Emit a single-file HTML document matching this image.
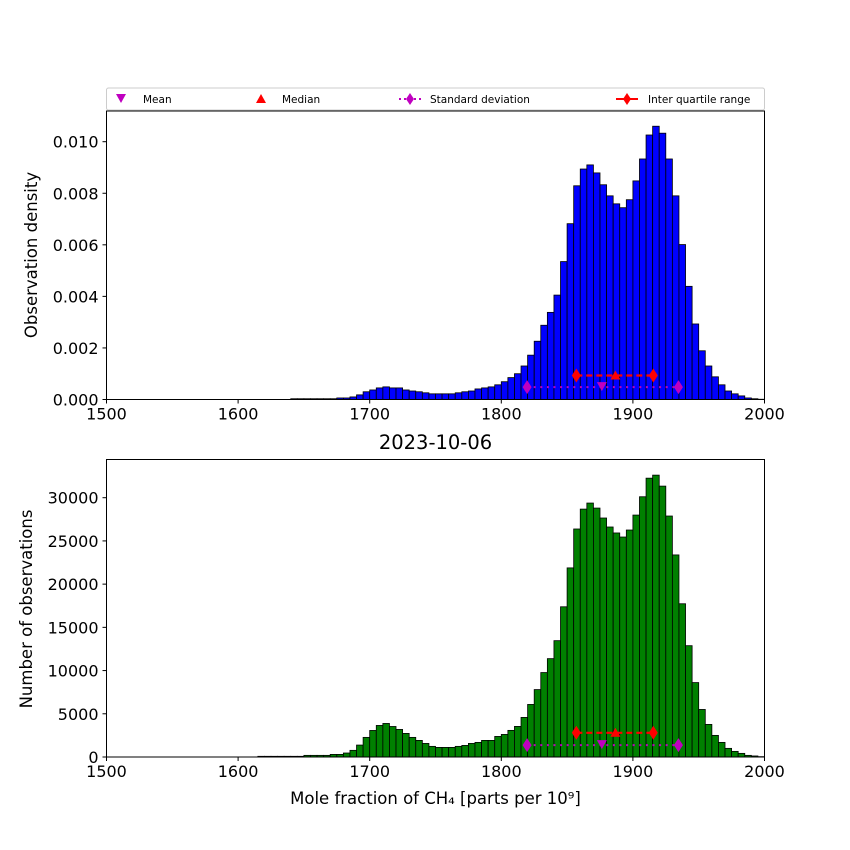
<!DOCTYPE html>
<html><head><meta charset="utf-8"><style>
body{margin:0;background:#fff}
svg{display:block;font-family:"DejaVu Sans","Liberation Sans",sans-serif}
</style></head><body>
<svg id="chart" width="850" height="850" viewBox="0 0 850 850" xmlns="http://www.w3.org/2000/svg">
<rect width="850" height="850" fill="#fff"/>
<g id="legend">
  <rect x="106.5" y="88" width="658" height="22" fill="#fff" stroke="#ccc" rx="2"/>
  <g>
    <polygon points="116,94 126,94 121,103" fill="#bf00bf"/>
    <text x="143" y="103" font-size="10.5">Mean</text>
  </g>
  <g>
    <polygon points="256,103 266,103 261,94" fill="#ff0000"/>
    <text x="282" y="103" font-size="10.5">Median</text>
  </g>
  <g>
    <line x1="399" y1="99" x2="421" y2="99" stroke="#bf00bf" stroke-width="2" stroke-dasharray="2,3"/>
    <polygon points="410,93 414,99 410,105 406,99" fill="#bf00bf"/>
    <text x="430" y="103" font-size="10.5">Standard deviation</text>
  </g>
  <g>
    <line x1="616" y1="99" x2="638" y2="99" stroke="#ff0000" stroke-width="2"/>
    <polygon points="627,93 631,99 627,105 623,99" fill="#ff0000"/>
    <text x="648" y="103" font-size="10.5">Inter quartile range</text>
  </g>
</g>
<g id="top"></g>
<g id="bot"></g>
<text x="435.5" y="449" font-size="19.5" text-anchor="middle">2023-10-06</text>
<text x="435.5" y="804" font-size="16.5" text-anchor="middle">Mole fraction of CH₄ [parts per 10⁹]</text>
<text transform="translate(37,255) rotate(-90)" font-size="16.5" text-anchor="middle">Observation density</text>
<text transform="translate(32,609) rotate(-90)" font-size="16.5" text-anchor="middle">Number of observations</text>
</svg>
<script>
const binWidth = 5;
const densityStarts = [1640,1645,1650,1655,1660,1665,1670,1675,1680,1685,1690,1695,1700,1705,1710,1715,1720,1725,1730,1735,1740,1745,1750,1755,1760,1765,1770,1775,1780,1785,1790,1795,1800,1805,1810,1815,1820,1825,1830,1835,1840,1845,1850,1855,1860,1865,1870,1875,1880,1885,1890,1895,1900,1905,1910,1915,1920,1925,1930,1935,1940,1945,1950,1955,1960,1965,1970,1975,1980,1985,1990,1995];
const densityValues = [0.00003,0.00003,0.00003,0.00003,0.00003,0.00003,0.00003,0.00006,0.00006,0.0001,0.00018,0.0003,0.00037,0.00045,0.00049,0.00045,0.00045,0.00037,0.00033,0.0003,0.00026,0.00022,0.00022,0.00022,0.00022,0.00026,0.0003,0.00033,0.00041,0.00045,0.00049,0.00057,0.00069,0.00085,0.001,0.0013,0.00172,0.00226,0.00288,0.00338,0.00405,0.00535,0.00682,0.00829,0.00894,0.0091,0.00879,0.00833,0.0079,0.00759,0.00744,0.00775,0.00848,0.00933,0.01026,0.0106,0.01033,0.00933,0.0079,0.00601,0.00439,0.00293,0.00189,0.0013,0.00088,0.00057,0.00033,0.00022,0.00014,0.00006,0.00003,0.00001];
const countStarts = [1615,1620,1625,1630,1635,1640,1645,1650,1655,1660,1665,1670,1675,1680,1685,1690,1695,1700,1705,1710,1715,1720,1725,1730,1735,1740,1745,1750,1755,1760,1765,1770,1775,1780,1785,1790,1795,1800,1805,1810,1815,1820,1825,1830,1835,1840,1845,1850,1855,1860,1865,1870,1875,1880,1885,1890,1895,1900,1905,1910,1915,1920,1925,1930,1935,1940,1945,1950,1955,1960,1965,1970,1975,1980,1985,1990,1995];
const countValues = [80,80,80,80,80,80,80,190,190,190,190,300,300,460,770,1380,2270,3070,3650,3880,3530,3190,2730,2270,1920,1570,1230,1110,1110,1110,1230,1340,1570,1690,1920,1920,2380,2610,3080,3540,4580,6080,7800,9770,11380,13460,17380,21880,26380,28680,29380,28800,27650,26610,25920,25450,26260,27990,30110,32260,32610,31340,27880,23380,17730,12880,8610,5500,3770,2500,1690,1000,650,420,190,120,40];
const xTicks = [1500,1600,1700,1800,1900,2000];
const densityTicks = ["0.000","0.002","0.004","0.006","0.008","0.010"];
const countTicks = ["0","5000","10000","15000","20000","25000","30000"];
// summary statistics: [mean, median, q1, q3, meanMinusStd, meanPlusStd]
const densityStats = [1876.4, 1886.7, 1857, 1915.5, 1819.6, 1934.6];
const densityStatY = [0.00048, 0.00093];
const countStats = [1876.4, 1886.7, 1857, 1915.5, 1819.6, 1934.6];
const countStatY = [1380, 2800];

const NS = "http://www.w3.org/2000/svg";
function mk(tag, attrs, parent){const e=document.createElementNS(NS,tag);for(const k in attrs)e.setAttribute(k,attrs[k]);parent.appendChild(e);return e;}
const X0=106.5, X1=764.5;
const xs = v => X0 + (v-1500)/(500)*(X1-X0);

function panel(g, top, bottom, ymax, starts, values, color, ticks, stats, statY){
  const ys = v => bottom - v/ymax*(bottom-top);
  for(let i=0;i<values.length;i++){
    const x=xs(starts[i]), w=xs(starts[i]+binWidth)-x, y=ys(values[i]);
    const r=mk('rect',{x:x,y:y,width:w,height:bottom-y,fill:color,stroke:'#000','stroke-width':0.8},g);
    
    
  }
  const iy=ys(statY[1]), sy=ys(statY[0]);
  const l1=mk('line',{x1:xs(stats[2]),y1:iy,x2:xs(stats[3]),y2:iy,stroke:'#ff0000','stroke-width':2.2,'stroke-dasharray':'6,4'},g);
  
  
  const l2=mk('line',{x1:xs(stats[4]),y1:sy,x2:xs(stats[5]),y2:sy,stroke:'#bf00bf','stroke-width':2,'stroke-dasharray':'2,4.6'},g);
  
  
  const dia=(x,y,c,n)=>{const p=mk('polygon',{points:`${x},${y-7} ${x+4.5},${y} ${x},${y+7} ${x-4.5},${y}`,fill:c},g);
    
    };
  dia(xs(stats[2]),iy,'#ff0000','iqr-marker');dia(xs(stats[3]),iy,'#ff0000','iqr-marker');
  dia(xs(stats[4]),sy,'#bf00bf','std-marker');dia(xs(stats[5]),sy,'#bf00bf','std-marker');
  const mx=xs(stats[1]);
  const med=mk('polygon',{points:`${mx-5},${iy+4} ${mx+5},${iy+4} ${mx},${iy-5}`,fill:'#ff0000'},g);
  
  
  const ax=xs(stats[0]);
  const mean=mk('polygon',{points:`${ax-5},${sy-5} ${ax+5},${sy-5} ${ax},${sy+4}`,fill:'#bf00bf'},g);
  
  
  const f=mk('rect',{x:X0,y:top,width:X1-X0,height:bottom-top,fill:'none',stroke:'#000','stroke-width':1},g);
  
  
  xTicks.forEach(t=>{const x=xs(t);
    mk('line',{x1:x,y1:bottom,x2:x,y2:bottom+4,stroke:'#000'},g);
    const tx=mk('text',{x:x,y:bottom+20,'font-size':16,'text-anchor':'middle'},g);tx.textContent=t;
    
    });
  ticks.forEach(t=>{const y=ys(parseFloat(t));
    mk('line',{x1:X0-4,y1:y,x2:X0,y2:y,stroke:'#000'},g);
    const tx=mk('text',{x:X0-8,y:y+6,'font-size':16,'text-anchor':'end'},g);tx.textContent=t;
    
    });
}
panel(document.getElementById('top'), 111, 399.5, 0.010*(399.5-111)/257.8, densityStarts, densityValues, '#0000ff', densityTicks, densityStats, densityStatY);
panel(document.getElementById('bot'), 459.5, 757, 30000*(757-459.5)/259.3, countStarts, countValues, '#008000', countTicks, countStats, countStatY);
</script>
</body></html>
